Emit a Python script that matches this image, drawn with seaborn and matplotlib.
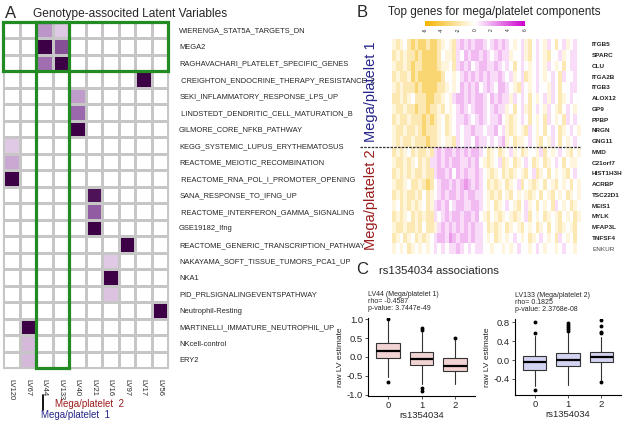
import numpy as np
import pandas as pd
import matplotlib
matplotlib.use("Agg")
import matplotlib.pyplot as plt
import seaborn as sns
from matplotlib.colors import LinearSegmentedColormap
from matplotlib.patches import Rectangle
from matplotlib.lines import Line2D

# ---------------- data ----------------
lv_names = ["LV120", "LV67", "LV44", "LV133", "LV40", "LV21", "LV16", "LV97", "LV17", "LV56"]
pathways = [
    "WIERENGA_STAT5A_TARGETS_DN",
    "MEGA2",
    "RAGHAVACHARI_PLATELET_SPECIFIC_GENES",
    " CREIGHTON_ENDOCRINE_THERAPY_RESISTANCE_2",
    "SEKI_INFLAMMATORY_RESPONSE_LPS_UP",
    " LINDSTEDT_DENDRITIC_CELL_MATURATION_B",
    "GILMORE_CORE_NFKB_PATHWAY",
    "KEGG_SYSTEMIC_LUPUS_ERYTHEMATOSUS",
    "REACTOME_MEIOTIC_RECOMBINATION",
    " REACTOME_RNA_POL_I_PROMOTER_OPENING",
    "SANA_RESPONSE_TO_IFNG_UP",
    " REACTOME_INTERFERON_GAMMA_SIGNALING",
    "GSE19182_Ifng",
    "REACTOME_GENERIC_TRANSCRIPTION_PATHWAY",
    "NAKAYAMA_SOFT_TISSUE_TUMORS_PCA1_UP",
    "NKA1",
    "PID_PRLSIGNALINGEVENTSPATHWAY",
    "Neutrophil-Resting",
    "MARTINELLI_IMMATURE_NEUTROPHIL_UP",
    "NKcell-control",
    "ERY2",
]
assoc = [
    [0, 0, .38, .20, 0, 0, 0, 0, 0, 0],
    [0, 0, 1.0, .65, 0, 0, 0, 0, 0, 0],
    [0, 0, .52, 1.0, 0, 0, 0, 0, 0, 0],
    [0, 0, 0, 0, 0, 0, 0, 0, 1.0, 0],
    [0, 0, 0, 0, .36, 0, 0, 0, 0, 0],
    [0, 0, 0, 0, .55, 0, 0, 0, 0, 0],
    [0, 0, 0, 0, 1.0, 0, 0, 0, 0, 0],
    [.20, 0, 0, 0, 0, 0, 0, 0, 0, 0],
    [.32, 0, 0, 0, 0, 0, 0, 0, 0, 0],
    [1.0, 0, 0, 0, 0, 0, 0, 0, 0, 0],
    [0, 0, 0, 0, 0, .92, 0, 0, 0, 0],
    [0, 0, 0, 0, 0, .60, 0, 0, 0, 0],
    [0, 0, 0, 0, 0, 1.0, 0, 0, 0, 0],
    [0, 0, 0, 0, 0, 0, 0, 1.0, 0, 0],
    [0, 0, 0, 0, 0, 0, .20, 0, 0, 0],
    [0, 0, 0, 0, 0, 0, 1.0, 0, 0, 0],
    [0, 0, 0, 0, 0, 0, .22, 0, 0, 0],
    [0, 0, 0, 0, 0, 0, 0, 0, 0, 1.0],
    [0, 1.0, 0, 0, 0, 0, 0, 0, 0, 0],
    [0, .26, 0, 0, 0, 0, 0, 0, 0, 0],
    [0, .26, 0, 0, 0, 0, 0, 0, 0, 0],
]

genes_g1 = ["ITGB5", "SPARC", "CLU", "ITGA2B", "ITGB3", "ALOX12", "GP9", "PPBP", "NRGN", "GNG11"]
genes_g2 = ["MMD", "C21orf7", "HIST1H3H", "ACRBP", "TSC22D1", "MEIS1", "MYLK", "MFAP3L", "TNFSF4", "ENKUR"]
# expression, encoded per column
expr_code = {"Y": -3.3, "y": -1.8, "o": -0.8, ".": 0.0, "p": 0.8, "P": 1.6, "M": 2.4}
expr_rows = [
    "oyo.yYyYYy" "YYyo.oypPp" "PpPPp.pPpP" "p.o.poy.p." "op.y.po.p.",
    "yoyoyyYyYY" "YYy.ooyp.P" "pPPpPp.pPp" "po..poy.p." "oy..po.pp.",
    "oyyoyYyyYY" "YYyoo.ypPp" "P.pPPppPp." "p.y.p.o.p." "op.o.y.pp.",
    "yoyyoYyYYY" "YYYy..o.pP" "pPpPpPppPp" ".po.pyo.p." "o.p.yp..p.",
    "oyoyyyYyYY" "YYyyo.o.Pp" "PpP.pPp.PP" "p.oyp.o.p." ".op.y..pp.",
    "yyoyo.yyyY" "Yyyo.opPPp" "PpPPp.PpPp" "pop.p.y.o." "pop.yo.p..",
    "oyyoyyYyyY" "yyoy.o.pPp" ".pPPp.pPpp" "o.y.poy.p." "op.oy.p.o.",
    "yoyyoyyyYy" "Yyo.yo.ppP" "p.pPp.ppP." "oyo.p.y.o." "yp.o.yp.p.",
    "oyyoyyoyYy" "yyo.yo.p.p" "pPpp.ppP.p" "oyo.oyp.o." "y.p.yo.p.o",
    "oyoyyoyyyY" "yyo.ooyp.p" "p.Ppp.p.pP" "o.yoo.p.oy" ".op.y.o.p.",
    "yoyo.yoyyo" "ypPpPPpPpP" "pPPp.yo.yo" ".po.yo..op" "y.o.p.oy.o",
    "oyyoyo.yoy" "ppPpPpPPpp" "PpP.oyo.py" "o.yo.p.yo." "yo.p.y.oo.",
    "yoyoyoyyoy" "ypPPpP.PpP" "ppPp.oyo.y" "oyo.oy.pyo" ".y.o.oy.p.",
    "oyyo.yyoyY" "y.pPPpPpPM" "PpPp.yoyo." "yo.py.oyo." "y.oy.o.y.o",
    "yoyoyyoy.y" "o.pPpPPpPp" "PPpp.oyoy." "oy.o.oyo.y" ".oy.o.yo.o",
    "o.yoyoyo.y" "opPpP.pPPp" "pPPp.o.yo." "p.oy.po.y." "o.yp.o.yo.",
    "yoyo.yoyoy" "yp.pPpPPpP" "PpP.oy.oyo" ".oyo.py.o." "yo.oy.o.yo",
    "oyyoyyoy.y" "yopPpPpPpP" "pPpp.yoyo." "yo.oy.o.yo" ".y.oyo.oy.",
    "yo.yo.yoyo" ".pPPpMPpPP" "pPpp.o.yo." "o.p.o.yo.p" ".o.yp.o.y.",
    "o.o.yo.o.o" ".p.p.ppPp." "p.pp..o..o" ".o.p..o.p." "o..o.p..o.",
]
cbar_ticks = [-6, -4, -2, 0, 2, 4, 6]

genotypes = ["0", "1", "2"]
lv44_q1 = [-0.03, -0.22, -0.38]
lv44_med = [0.15, -0.05, -0.24]
lv44_q3 = [0.37, 0.12, -0.03]
lv44_wlo = [-0.52, -0.72, -0.72]
lv44_whi = [0.95, 0.65, 0.45]
lv44_fliers = [[1.0, -0.65], [0.72, 0.76, -0.82, -0.90], [0.50]]

lv133_q1 = [-0.20, -0.13, -0.05]
lv133_med = [-0.05, 0.01, 0.06]
lv133_q3 = [0.09, 0.15, 0.18]
lv133_wlo = [-0.55, -0.53, -0.42]
lv133_whi = [0.50, 0.58, 0.48]
lv133_fliers = [[0.57, 0.80, -0.63], [0.62, 0.66, 0.70, 0.74, 0.78], [0.58, 0.60, 0.72, 0.84, -0.47]]

# ---------------- figure ----------------
sns.set_theme(style="white")
plt.rcParams["font.family"] = ["Liberation Sans", "DejaVu Sans"]

W, H = 625, 425
fig = plt.figure(figsize=(W / 100, H / 100), dpi=100)
fig.patch.set_facecolor("white")


def ax_px(x0, y0, x1, y1):
    return fig.add_axes([x0 / W, 1 - y1 / H, (x1 - x0) / W, (y1 - y0) / H])


GREEN = "#228B22"
BLUE = "#25258A"
RED = "#9A1B1B"

# ---- Panel A ----
axA = ax_px(3, 22, 168, 368)
cmapA = LinearSegmentedColormap.from_list(
    "purp", [(0, "#ffffff"), (0.2, "#e0c9e4"), (0.55, "#9b67ad"), (1.0, "#3d0046")])
dfA = pd.DataFrame(assoc, index=pathways, columns=lv_names)
sns.heatmap(dfA, ax=axA, cmap=cmapA, vmin=0, vmax=1, cbar=False,
            linewidths=0.8, linecolor="#c6c6c6")
axA.tick_params(left=False, right=False, bottom=False, labelleft=False,
                labelright=True, pad=2)
axA.set_yticks(np.arange(len(pathways)) + 0.5)
axA.set_yticklabels(pathways, rotation=0, fontsize=5.4, ha="left")
axA.set_xticks(np.arange(len(lv_names)) + 0.5)
axA.set_xticklabels(lv_names, rotation=-90, fontsize=5.4, va="top")
axA.set_xlabel("")
axA.set_ylabel("")
axA.add_patch(Rectangle((0, 0), len(lv_names), len(pathways), fill=False,
                        ec="#c6c6c6", lw=0.8, zorder=4, clip_on=False))
axA.add_patch(Rectangle((0, 0), len(lv_names), 3, fill=False, ec=GREEN,
                        lw=2.3, zorder=6, clip_on=False))
axA.add_patch(Rectangle((2, 0), 2, len(pathways), fill=False, ec=GREEN,
                        lw=2.3, zorder=6, clip_on=False))

fig.text(5 / W, 1 - 18 / H, "A", fontsize=12, ha="left", va="baseline")
fig.text(33 / W, 1 - 17 / H, "Genotype-associted Latent Variables", fontsize=8.6,
         ha="left", va="baseline")
fig.add_artist(Line2D([43 / W, 43 / W], [1 - 395 / H, 1 - 410 / H], color="black",
                      lw=1.3, transform=fig.transFigure))
fig.text(55 / W, 1 - 404 / H, "Mega/platelet  2", fontsize=7, color=RED,
         ha="left", va="center")
fig.text(41 / W, 1 - 415 / H, "Mega/platelet  1", fontsize=7, color=BLUE,
         ha="left", va="center")

# ---- Panel B ----
axB = ax_px(392, 39, 581, 254)
caxB = ax_px(425, 21, 525, 26)
cmapB = LinearSegmentedColormap.from_list("ywm", ["#F5B400", "#ffffff", "#CC00CC"])
mat = [[expr_code[c] for c in row] for row in expr_rows]
genes = genes_g1 + genes_g2
dfB = pd.DataFrame(mat, index=genes)
sns.heatmap(dfB, ax=axB, cmap=cmapB, vmin=-6, vmax=6, cbar_ax=caxB,
            cbar_kws={"orientation": "horizontal", "ticks": cbar_ticks})
caxB.tick_params(labelsize=3.5, length=0, pad=1.5)
caxB.set_xticklabels([str(t) for t in cbar_ticks], rotation=90)
cb = axB.collections[0].colorbar
if cb is not None:
    cb.outline.set_visible(False)
axB.tick_params(left=False, right=False, bottom=False, labelbottom=False,
                labelleft=False, labelright=True, pad=2)
axB.set_yticks(np.arange(len(genes)) + 0.5)
labs = axB.set_yticklabels(genes, rotation=0, fontsize=4.6, ha="left")
for lab in labs:
    if lab.get_text() == "ENKUR":
        lab.set_fontweight("normal")
        lab.set_color("#444444")
    else:
        lab.set_fontweight("bold")
axB.set_xlabel("")
axB.set_ylabel("")
ncol = len(expr_rows[0])
axB.plot([-(392 - 360) / 189 * ncol, ncol], [10, 10], ls=(0, (2, 1)), color="#333333",
         lw=0.9, clip_on=False, zorder=5)

fig.text(357 / W, 1 - 17 / H, "B", fontsize=12, ha="left", va="baseline")
fig.text(388 / W, 1 - 15 / H, "Top genes for mega/platelet components", fontsize=8.5,
         ha="left", va="baseline")
fig.text(371 / W, 1 - 92 / H, "Mega/platelet 1", fontsize=10.5, color=BLUE,
         rotation=90, ha="center", va="center")
fig.text(371 / W, 1 - 200 / H, "Mega/platelet 2", fontsize=10.5, color=RED,
         rotation=90, ha="center", va="center")

# ---- Panel C ----
fig.text(356 / W, 1 - 274 / H, "C", fontsize=12, ha="left", va="baseline")
fig.text(379 / W, 1 - 274 / H, "rs1354034 associations", fontsize=8.2,
         ha="left", va="baseline")


def make_stats(q1, med, q3, wlo, whi, fliers):
    return [dict(q1=q1[i], med=med[i], q3=q3[i], whislo=wlo[i], whishi=whi[i],
                 fliers=fliers[i], label=genotypes[i]) for i in range(len(genotypes))]


def box_panel(ax, stats, fill, ylim, yticks, title_lines):
    ax.bxp(stats, positions=range(len(stats)), widths=0.7, patch_artist=True,
           showfliers=True,
           boxprops=dict(facecolor=fill, edgecolor="#333333", lw=0.8),
           medianprops=dict(color="black", lw=1.6),
           whiskerprops=dict(color="#333333", lw=0.8),
           capprops=dict(lw=0),
           flierprops=dict(marker="o", markersize=1.8, markerfacecolor="black",
                           markeredgecolor="black"))
    ax.set_xlim(-0.6, 2.6)
    ax.set_ylim(*ylim)
    ax.set_yticks(yticks)
    ax.set_yticklabels([f"{t:.1f}" for t in yticks])
    ax.set_xticks(range(len(genotypes)))
    ax.set_xticklabels(genotypes)
    ax.set_facecolor("white")
    for s in ["top", "right"]:
        ax.spines[s].set_visible(False)
    for s in ["left", "bottom"]:
        ax.spines[s].set_color("black")
        ax.spines[s].set_linewidth(0.8)
    ax.tick_params(axis="both", length=2, width=0.6, color="#333333",
                   labelsize=6.8, pad=1.5, left=True, bottom=True)
    ax.set_xlabel("rs1354034", fontsize=6.8, labelpad=1)
    ax.set_ylabel("raw LV estimate", fontsize=6.0, labelpad=2)
    ax.text(0.0, 1.08, "\n".join(title_lines), transform=ax.transAxes, fontsize=5.0,
            ha="left", va="bottom", linespacing=1.0)


axC1 = ax_px(368, 318, 475, 396)
box_panel(axC1, make_stats(lv44_q1, lv44_med, lv44_q3, lv44_wlo, lv44_whi, lv44_fliers),
          "#F2D3D3", (-1.03, 1.03), [-1.0, -0.5, 0.0, 0.5, 1.0],
          ["LV44 (Mega/platelet 1)", "rho= -0.4587", "p-value: 3.7447e-49"])

axC2 = ax_px(515, 319, 621, 395)
box_panel(axC2, make_stats(lv133_q1, lv133_med, lv133_q3, lv133_wlo, lv133_whi, lv133_fliers),
          "#D3D3F2", (-0.74, 0.87), [-0.4, 0.0, 0.4, 0.8],
          ["LV133 (Mega/platelet 2)", "rho= 0.1825", "p-value: 2.3768e-08"])

fig.savefig("out.png", dpi=100, facecolor="white")
